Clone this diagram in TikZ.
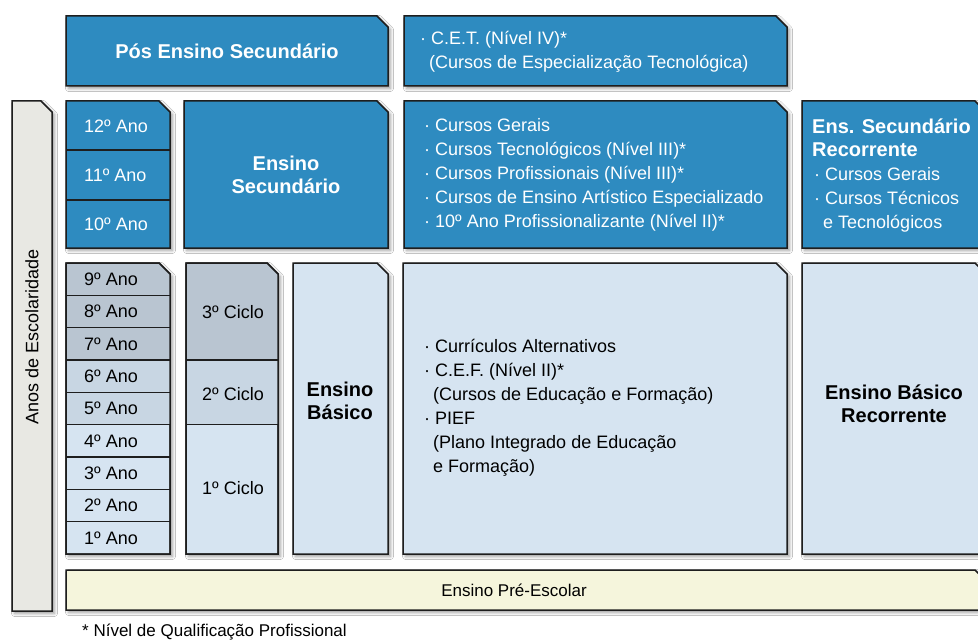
\documentclass[tikz,border=0pt]{standalone}
\usepackage{fontspec}
\setmainfont{Liberation Sans}
\usetikzlibrary{shadows.blur}
\definecolor{edge}{HTML}{1E1E1E}
\definecolor{bblue}{HTML}{2E8BC0}
\definecolor{lblue}{HTML}{D6E4F1}
\definecolor{mrow}{HTML}{C8D6E3}
\definecolor{drow}{HTML}{B9C5D1}
\definecolor{cream}{HTML}{F5F5DC}
\definecolor{lgrey}{HTML}{E8E8E3}
\newcommand\chambox[5]{%
  \path[box, fill=#5] (#1,#2) -- (#3-11,#2) -- (#3,#2+11) -- (#3,#4) -- (#1,#4) -- cycle;}
\tikzset{
  x=1pt, y=-1pt,
  box/.style={draw=edge, line width=1.5pt, line join=miter,
    blur shadow={shadow xshift=2.5pt, shadow yshift=-2.5pt, shadow blur radius=3pt, shadow opacity=40}},
  outl/.style={draw=edge, line width=1.5pt, line join=miter},
  divl/.style={draw=edge, line width=1.5pt},
  rt/.style={font=\fontsize{18}{24}\selectfont, inner sep=0pt, align=left},
  bt/.style={font=\bfseries\fontsize{20}{23}\selectfont, inner sep=0pt, align=center},
  wt/.style={text=white},
  kt/.style={text=black},
}
\begin{document}
\begin{tikzpicture}
\clip (0,0) rectangle (978,642);
\fill[white] (0,0) rectangle (978,642);

% top row
\chambox{66}{16}{388}{86}{bblue}
\chambox{404}{16}{787}{86}{bblue}
\node[bt,wt] (pos) at (227,51) {Pós Ensino Secundário};
\node[rt,wt,anchor=west] (cet) at (420,52) {· C.E.T. (Nível IV)*\\\phantom{·}\,(Cursos de Especialização Tecnológica)};

% left bar
\chambox{12}{101}{52}{611}{lgrey}
\node[rt,kt,rotate=90] (anos) at (32,337) {Anos de Escolaridade};

% secondary years
\chambox{66}{101}{170}{248}{bblue}
\draw[divl] (66,150) -- (170,150);
\draw[divl] (66,200) -- (170,200);
\node[rt,wt,anchor=west] (a12) at (84,126) {12º Ano};
\node[rt,wt,anchor=west] (a11) at (84,175) {11º Ano};
\node[rt,wt,anchor=west] (a10) at (84,224) {10º Ano};

\chambox{184}{101}{388}{248}{bblue}
\node[bt,wt] (sec) at (286,175) {Ensino\\Secundário};

\chambox{404}{101}{787}{248}{bblue}
\node[rt,wt,anchor=west] (cursos) at (424,175) {· Cursos Gerais\\· Cursos Tecnológicos (Nível III)*\\· Cursos Profissionais (Nível III)*\\· Cursos de Ensino Artístico Especializado\\· 10º Ano Profissionalizante (Nível II)*};

\chambox{802}{101}{986}{248}{bblue}
\node[bt,wt,anchor=west,align=left] (esr) at (812,138) {Ens. Secundário\\Recorrente};
\node[rt,wt,anchor=west] (esrc) at (814,200) {· Cursos Gerais\\· Cursos Técnicos\\\phantom{·}\,e Tecnológicos};

% basic years
\path[box, fill=lblue] (66,263) -- (159,263) -- (170,274) -- (170,554) -- (66,554) -- cycle;
\begin{scope}
\clip (66,263) -- (159,263) -- (170,274) -- (170,554) -- (66,554) -- cycle;
\fill[drow] (66,263) rectangle (170,360);
\fill[mrow] (66,360) rectangle (170,424.7);
\end{scope}
\foreach \k in {1,...,8} \draw[divl] (66,{263+\k*32.33}) -- (170,{263+\k*32.33});
\path[outl] (66,263) -- (159,263) -- (170,274) -- (170,554) -- (66,554) -- cycle;
\foreach \n [count=\k from 0] in {9,8,7,6,5,4,3,2,1}
  \node[rt,kt,anchor=west] (b\n) at (84,{263+(\k+0.5)*32.33}) {\n º Ano};

% cycles
\path[box, fill=lblue] (186,263) -- (267,263) -- (278,274) -- (278,554) -- (186,554) -- cycle;
\begin{scope}
\clip (186,263) -- (267,263) -- (278,274) -- (278,554) -- (186,554) -- cycle;
\fill[drow] (186,263) rectangle (278,360);
\fill[mrow] (186,360) rectangle (278,424.7);
\end{scope}
\draw[divl] (186,360) -- (278,360);
\draw[divl] (186,424.7) -- (278,424.7);
\path[outl] (186,263) -- (267,263) -- (278,274) -- (278,554) -- (186,554) -- cycle;
\node[rt,kt] (c3) at (233,312) {3º Ciclo};
\node[rt,kt] (c2) at (233,394) {2º Ciclo};
\node[rt,kt] (c1) at (233,488) {1º Ciclo};

\chambox{293}{263}{388}{554}{lblue}
\node[bt,kt] (eb) at (340,401) {Ensino\\Básico};

\chambox{403}{263}{787}{554}{lblue}
\node[rt,kt,anchor=west] (alt) at (424,408) {· Currículos Alternativos\\· C.E.F. (Nível II)*\\\phantom{·}\,(Cursos de Educação e Formação)\\· PIEF\\\phantom{·}\,(Plano Integrado de Educação\\\phantom{·}\,e Formação)};

\chambox{802}{263}{986}{554}{lblue}
\node[bt,kt] (ebr) at (894,404) {Ensino Básico\\Recorrente};

% pre-school
\chambox{66}{570}{986}{610}{cream}
\node[rt,kt,font=\fontsize{17}{22}\selectfont] (pre) at (514,590) {Ensino Pré-Escolar};

\node[rt,kt,anchor=west,font=\fontsize{17}{22}\selectfont] (nota) at (82,632) {* Nível de Qualificação Profissional};
\end{tikzpicture}
\end{document}
